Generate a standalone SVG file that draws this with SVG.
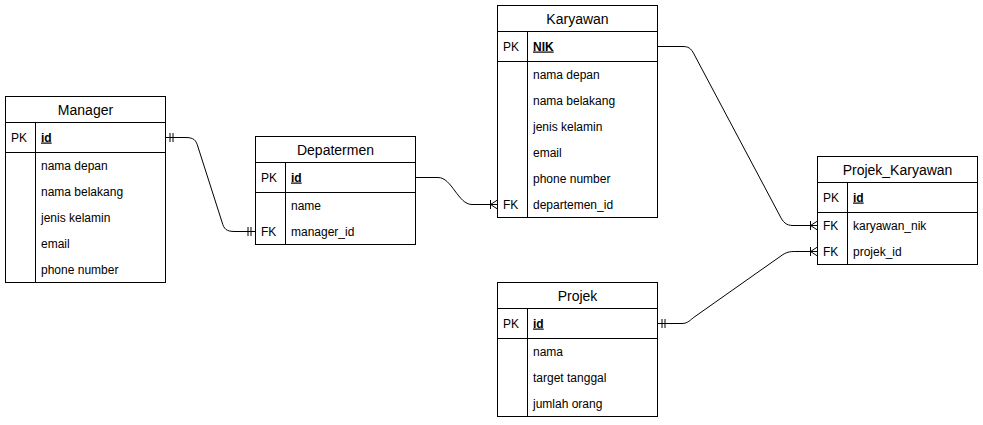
<svg xmlns="http://www.w3.org/2000/svg" width="983" height="425" viewBox="0 0 983 425">
<style>
.box{fill:#fff;stroke:#000;stroke-width:1}
.ln{fill:none;stroke:#000;stroke-width:1}
.t{font-family:"Liberation Sans",Arial,sans-serif;font-size:14px;fill:#000;text-anchor:middle}
.f{font-family:"Liberation Sans",Arial,sans-serif;font-size:12px;fill:#000}
.k{font-weight:bold;text-decoration:underline}
</style>
<defs>
<marker id="one" markerUnits="userSpaceOnUse" viewBox="-15 -10 20 20" markerWidth="20" markerHeight="20" refX="0" refY="0" orient="auto-start-reverse" overflow="visible">
<path d="M-4.5,-4.5V4.5M-7.5,-4.5V4.5" fill="none" stroke="#000" stroke-width="1"/>
</marker>
<marker id="many" markerUnits="userSpaceOnUse" viewBox="-15 -10 20 20" markerWidth="20" markerHeight="20" refX="0" refY="0" orient="auto-start-reverse" overflow="visible">
<path d="M-7,-4.5V4.5M0,-4.5L-7,0L0,4.5" fill="none" stroke="#000" stroke-width="1"/>
</marker>
</defs>
<rect width="983" height="425" fill="#fff"/>
<g id="connectors">
<path class="ln" d="M165.5,137.5H185C194,137.5 196,140 198,147L222,222C224,229 226,231.5 235,231.5H255.5" marker-start="url(#one)" marker-end="url(#one)"/>
<path class="ln" d="M415.5,177.5H438C452,177.5 458,204.5 472,204.5H497.5" marker-end="url(#many)"/>
<path class="ln" d="M657.5,46.5H683C690,46.5 692,50 695,56L780,216C783,222 786,225.5 793,225.5H817.5" marker-end="url(#many)"/>
<path class="ln" d="M657.5,323.5H682C688,323.5 690,320 695,316.5L783,254.5C788,251.5 791,251.5 797,251.5H817.5" marker-start="url(#one)" marker-end="url(#many)"/>
</g>
<g id="manager">
<rect class="box" x="5.5" y="96.5" width="160" height="186"/>
<path class="ln" d="M5.5,122.5H165.5M5.5,152.5H165.5M35.5,122.5V282.5"/>
<text class="t" x="85.5" y="114.5">Manager</text>
<text class="f" x="11" y="141.5">PK</text>
<text class="f k" x="41" y="141.5">id</text>
<text class="f" x="41" y="169.5">nama depan</text>
<text class="f" x="41" y="195.5">nama belakang</text>
<text class="f" x="41" y="221.5">jenis kelamin</text>
<text class="f" x="41" y="247.5">email</text>
<text class="f" x="41" y="273.5">phone number</text>
</g>
<g id="departemen">
<rect class="box" x="255.5" y="136.5" width="160" height="108"/>
<path class="ln" d="M255.5,162.5H415.5M255.5,192.5H415.5M285.5,162.5V244.5"/>
<text class="t" x="335.5" y="154.5">Depatermen</text>
<text class="f" x="261" y="181.5">PK</text>
<text class="f k" x="291" y="181.5">id</text>
<text class="f" x="291" y="209.5">name</text>
<text class="f" x="261" y="235.5">FK</text>
<text class="f" x="291" y="235.5">manager_id</text>
</g>
<g id="karyawan">
<rect class="box" x="497.5" y="5.5" width="160" height="212"/>
<path class="ln" d="M497.5,31.5H657.5M497.5,61.5H657.5M527.5,31.5V217.5"/>
<text class="t" x="577.5" y="23.5">Karyawan</text>
<text class="f" x="503" y="50.5">PK</text>
<text class="f k" x="533" y="50.5">NIK</text>
<text class="f" x="533" y="78.5">nama depan</text>
<text class="f" x="533" y="104.5">nama belakang</text>
<text class="f" x="533" y="130.5">jenis kelamin</text>
<text class="f" x="533" y="156.5">email</text>
<text class="f" x="533" y="182.5">phone number</text>
<text class="f" x="503" y="208.5">FK</text>
<text class="f" x="533" y="208.5">departemen_id</text>
</g>
<g id="projek_karyawan">
<rect class="box" x="817.5" y="156.5" width="160" height="108"/>
<path class="ln" d="M817.5,182.5H977.5M817.5,212.5H977.5M847.5,182.5V264.5"/>
<text class="t" x="897.5" y="174.5">Projek_Karyawan</text>
<text class="f" x="823" y="201.5">PK</text>
<text class="f k" x="853" y="201.5">id</text>
<text class="f" x="823" y="229.5">FK</text>
<text class="f" x="853" y="229.5">karyawan_nik</text>
<text class="f" x="823" y="255.5">FK</text>
<text class="f" x="853" y="255.5">projek_id</text>
</g>
<g id="projek">
<rect class="box" x="497.5" y="282.5" width="160" height="134"/>
<path class="ln" d="M497.5,308.5H657.5M497.5,338.5H657.5M527.5,308.5V416.5"/>
<text class="t" x="577.5" y="300.5">Projek</text>
<text class="f" x="503" y="327.5">PK</text>
<text class="f k" x="533" y="327.5">id</text>
<text class="f" x="533" y="355.5">nama</text>
<text class="f" x="533" y="381.5">target tanggal</text>
<text class="f" x="533" y="407.5">jumlah orang</text>
</g>
</svg>
